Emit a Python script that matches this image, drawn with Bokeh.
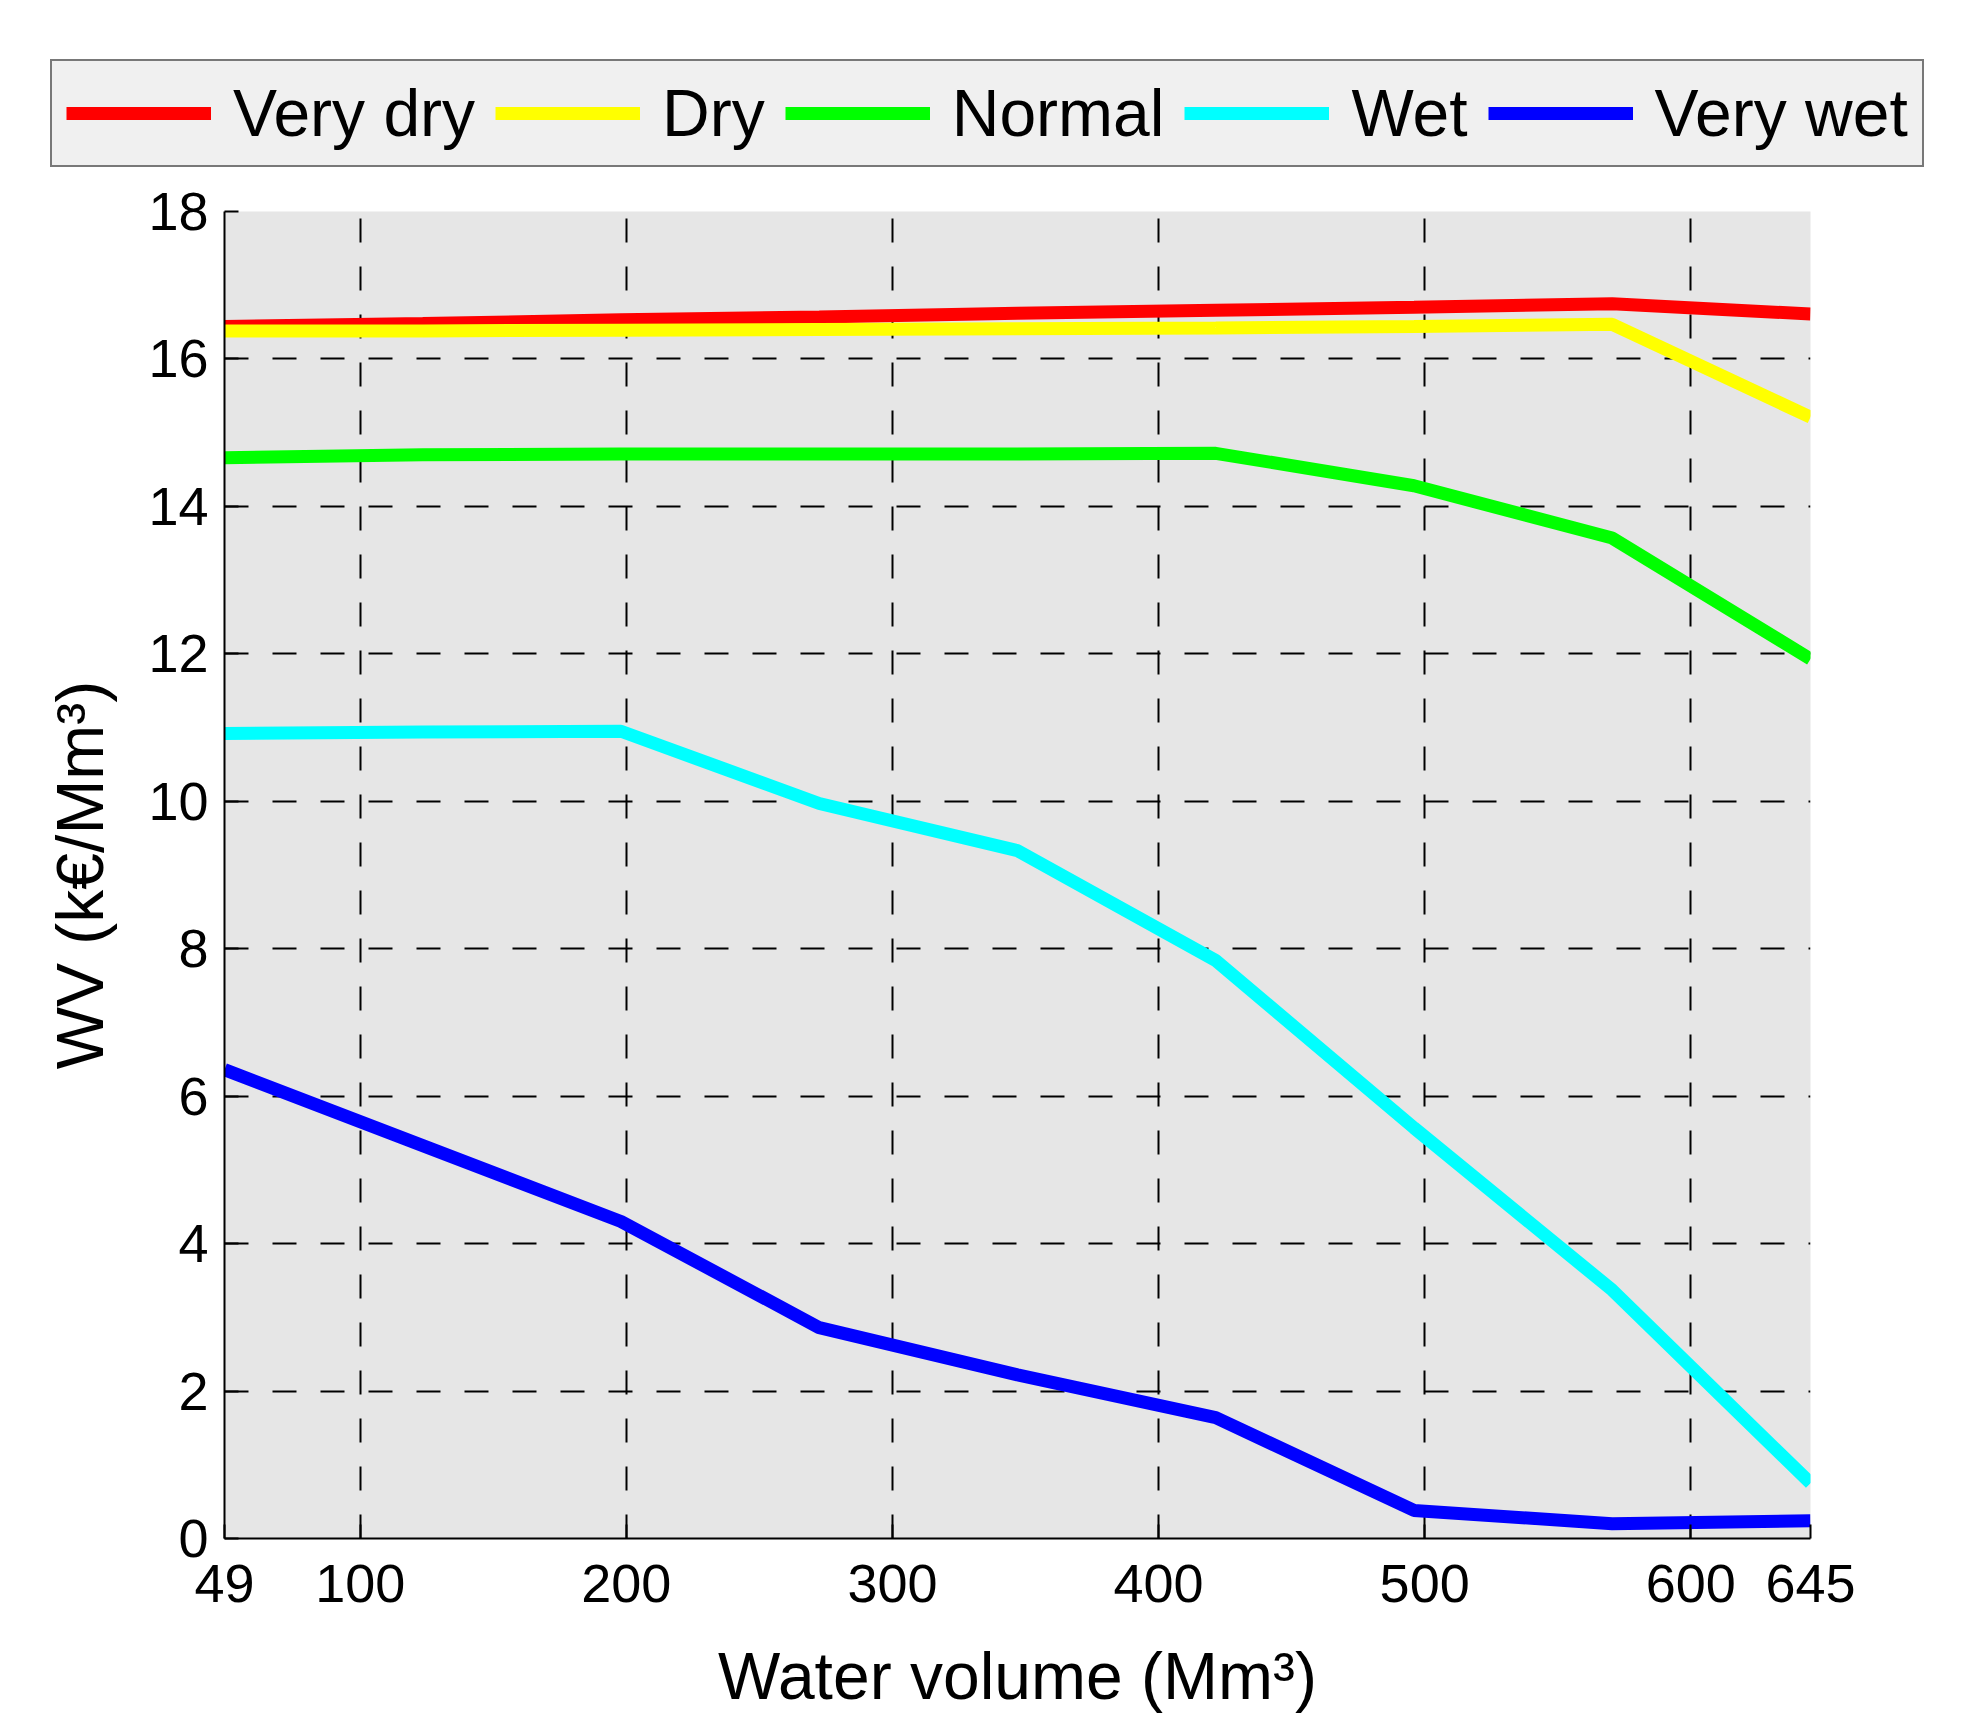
from bokeh.plotting import figure
from bokeh.layouts import column
from bokeh.models import Range1d, FixedTicker
from bokeh.embed import file_html
from bokeh.resources import INLINE

# water volume (Mm3) and water value (k€/Mm3) per inflow scenario
volume = [49, 123.5, 198, 272.5, 347, 421.5, 496, 570.5, 645]
very_dry = [16.44, 16.48, 16.53, 16.57, 16.62, 16.66, 16.70, 16.75, 16.61]
dry = [16.38, 16.38, 16.39, 16.40, 16.41, 16.42, 16.44, 16.47, 15.21]
normal = [14.66, 14.70, 14.71, 14.71, 14.71, 14.72, 14.28, 13.57, 11.93]
wet = [10.92, 10.94, 10.95, 9.97, 9.33, 7.84, 5.57, 3.37, 0.75]
very_wet = [6.36, 5.33, 4.30, 2.86, 2.22, 1.64, 0.38, 0.20, 0.24]

names = ["Very dry", "Dry", "Normal", "Wet", "Very wet"]
colors = ["#ff0000", "#ffff00", "#00ff00", "#00ffff", "#0000ff"]
series = [very_dry, dry, normal, wet, very_wet]

x_ticks = [49, 100, 200, 300, 400, 500, 600, 645]
y_ticks = [0, 2, 4, 6, 8, 10, 12, 14, 16, 18]

FONT = "Liberation Sans"
LW = 13

# main chart
p = figure(frame_width=1586, frame_height=1327,
           x_range=Range1d(49, 645), y_range=Range1d(0, 18),
           min_border_left=224, min_border_right=150,
           min_border_top=40, min_border_bottom=185,
           output_backend="svg", toolbar_location=None)

p.background_fill_color = "#e6e6e6"
p.border_fill_color = "white"
p.outline_line_color = None

for vals, col in zip(series, colors):
    p.line(volume, vals, color=col, line_width=LW)

p.xaxis.ticker = FixedTicker(ticks=x_ticks)
p.yaxis.ticker = FixedTicker(ticks=y_ticks)
p.xgrid.ticker = FixedTicker(ticks=x_ticks)
p.ygrid.ticker = FixedTicker(ticks=y_ticks)

for g in (p.xgrid, p.ygrid):
    g.grid_line_color = "black"
    g.grid_line_width = 2
    g.grid_line_dash = "24 24"
    g.grid_line_alpha = 1

for ax in (p.xaxis, p.yaxis):
    ax.axis_line_width = 2
    ax.axis_line_color = "black"
    ax.major_tick_in = 14
    ax.major_tick_out = 0
    ax.major_tick_line_width = 2
    ax.minor_tick_line_color = None
    ax.major_label_text_font = FONT
    ax.major_label_text_font_size = "54px"
    ax.major_label_text_color = "black"
    ax.axis_label_text_font = FONT
    ax.axis_label_text_font_size = "66px"
    ax.axis_label_text_font_style = "normal"
    ax.axis_label_text_color = "black"

p.xaxis.axis_label = "Water volume (Mm\u00b3)"
p.yaxis.axis_label = "WV (k\u20ac/Mm\u00b3)"
p.xaxis.major_label_standoff = 26
p.yaxis.major_label_standoff = 16
p.xaxis.axis_label_standoff = 34
p.yaxis.axis_label_standoff = 28

# legend strip above the chart (it is wider than the plot frame)
lg = figure(frame_width=1964, frame_height=171,
            x_range=Range1d(0, 1), y_range=Range1d(0, 1),
            min_border=0, x_axis_type=None, y_axis_type=None,
            output_backend="svg", toolbar_location=None)
lg.outline_line_color = None
lg.grid.visible = False
for name, vals, col in zip(names, series, colors):
    # data lies outside this strip's ranges, so only the legend shows
    lg.line(volume, vals, color=col, line_width=LW, legend_label=name)

leg = lg.legend[0]
leg.orientation = "horizontal"
leg.location = (50, 4)
leg.label_text_font = FONT
leg.label_text_font_size = "66px"
leg.label_text_color = "black"
leg.glyph_width = 145
leg.glyph_height = 50
leg.label_height = 50
leg.label_standoff = 22
leg.spacing = 20
leg.padding = 14
leg.background_fill_color = "#f0f0f0"
leg.background_fill_alpha = 1
leg.border_line_color = "black"
leg.border_line_width = 2

open("out.html", "w").write(file_html(column(column(lg), column(p), spacing=0), INLINE))
